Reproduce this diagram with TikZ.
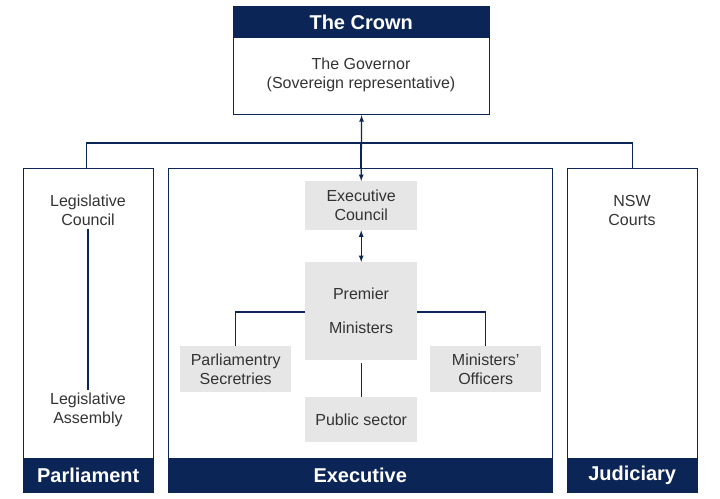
\documentclass[tikz,border=0pt]{standalone}
\usepackage{fontspec}
\setmainfont{Liberation Sans}
\definecolor{navy}{HTML}{0B2556}
\definecolor{boxgray}{HTML}{E6E6E6}
\definecolor{textgray}{HTML}{333333}
\tikzset{
  frame/.style={draw=navy, line width=1.2pt, anchor=north west, inner sep=0pt},
  header/.style={fill=navy, text=white, font=\bfseries\fontsize{20}{22}\selectfont, anchor=north west, inner sep=0pt},
  element/.style={fill=boxgray, text=textgray, align=center, font=\fontsize{16}{19}\selectfont, anchor=north west, inner sep=0pt},
  label/.style={text=textgray, align=center, font=\fontsize{16}{19}\selectfont},
  link/.style={navy, line width=1.2pt},
  twoway/.style={navy, line width=1.2pt, <->, >=latex}
}
\begin{document}
\begin{tikzpicture}[x=1pt, y=-1pt]
  \useasboundingbox[fill=white] (0,0) rectangle (720,498);

  %%%%%%%%%%%%%%%%%%%%%%%%%%%%%%
  % crown
  \node (crown) at (233,6) [frame, minimum width=256pt, minimum height=108pt] {};
  \node (crown_h) at (233,6) [header, minimum width=256pt, minimum height=32pt] {The Crown};
  \node (governor) at (361,75) [label] {The Governor\\(Sovereign representative)};

  %%%%%%%%%%%%%%%%%%%%%%%%%%%%%%
  % branches
  \node (parl) at (23,168) [frame, minimum width=130pt, minimum height=324pt] {};
  \node (parl_h) at (23,458) [header, minimum width=130pt, minimum height=34pt] {Parliament};
  \node (exec) at (168,168) [frame, minimum width=384pt, minimum height=324pt] {};
  \node (exec_h) at (168,458) [header, minimum width=384pt, minimum height=34pt] {Executive};
  \node (jud) at (567,168) [frame, minimum width=130pt, minimum height=324pt] {};
  \node (jud_h) at (567,458) [header, minimum width=130pt, minimum height=34pt] {Judiciary};

  % parliament
  \node (council) at (88,210) [label] {Legislative\\Council};
  \node (assembly) at (88,410) [label] {Legislative\\Assembly};
  % judiciary
  \node (courts) at (632,210) [label] {NSW\\Courts};

  % executive
  \node (ecouncil) at (305,181) [element, minimum width=112pt, minimum height=49pt] {Executive\\Council};
  \node (premier) at (305,262) [element, minimum width=112pt, minimum height=98pt] {};
  \node at (361,294) [label] {Premier};
  \node at (361,328) [label] {Ministers};
  \node (secr) at (180,346) [element, minimum width=111pt, minimum height=46pt] {Parliamentry\\Secretries};
  \node (officers) at (430,346) [element, minimum width=111pt, minimum height=46pt] {Ministers'\\Officers};
  \node (public) at (305,397) [element, minimum width=112pt, minimum height=45pt] {Public sector};

  %%%%%%%%%%%%%%%%%%%%%%%%%%%%%%
  % links
  \draw [link] (parl.north) ++(-2,0) |- (361,143) -| (jud.north);
  \draw [link] (361,143) -| (exec.north);
  \draw [twoway] (crown.south) -- (ecouncil.north);
  \draw [twoway] (ecouncil.south) -- (premier.north);
  \draw [link] (council.south) -- (assembly.north);
  \draw [link] (premier.west |- 0,312) -| (secr.north);
  \draw [link] (premier.east |- 0,312) -| (officers.north);
  \draw [link] (premier.south) ++(0,3) -- (public.north);
\end{tikzpicture}
\end{document}
